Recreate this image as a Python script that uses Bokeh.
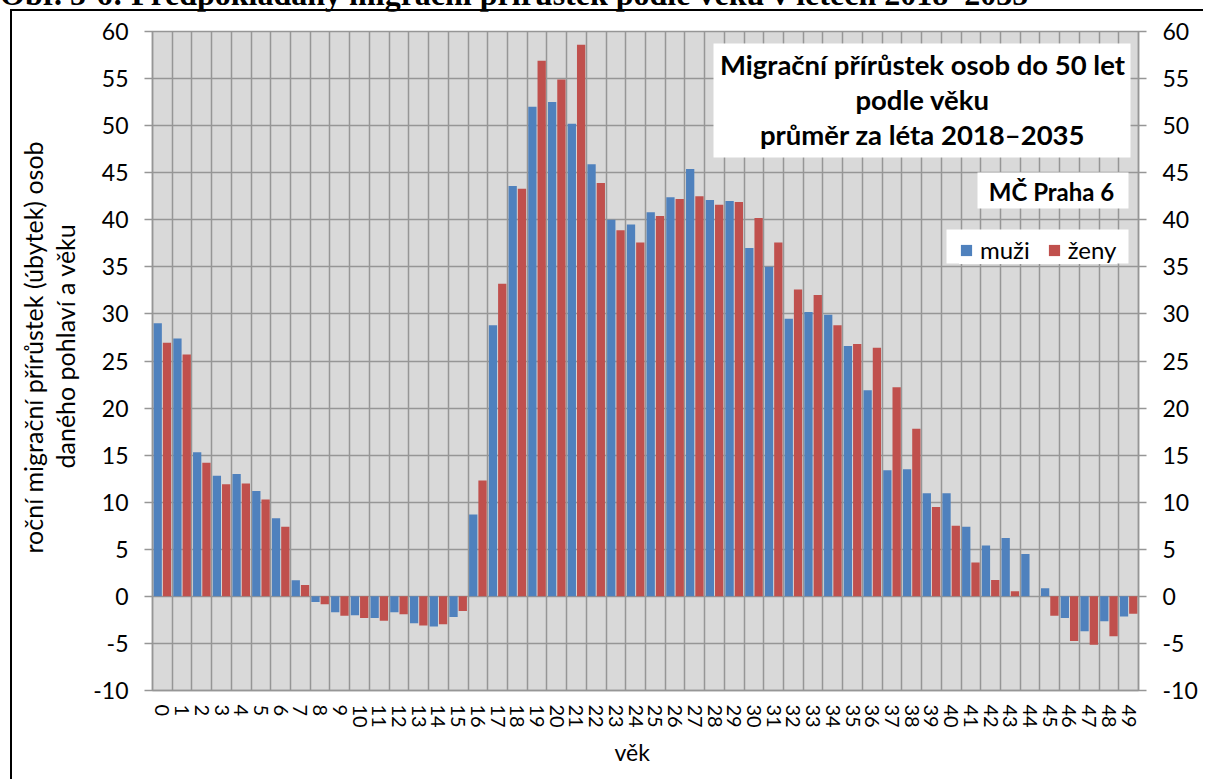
from bokeh.plotting import figure
from bokeh.layouts import column
from bokeh.models import (ColumnDataSource, Range1d, FixedTicker, LinearAxis,
                          BoxAnnotation, Label, Title, Div)
from bokeh.transform import dodge
from bokeh.embed import file_html
from bokeh.resources import INLINE

# ---------------- data ----------------
ages = list(range(50))
muzi = [29.0, 27.4, 15.3, 12.8, 13.0, 11.2, 8.3, 1.7, -0.6, -1.7,
        -2.0, -2.3, -1.7, -2.85, -3.2, -2.2, 8.7, 28.8, 43.6, 52.0,
        52.5, 50.2, 45.9, 40.0, 39.5, 40.8, 42.4, 45.4, 42.1, 42.0,
        37.0, 35.0, 29.5, 30.2, 29.9, 26.6, 21.9, 13.4, 13.5, 10.95,
        10.95, 7.4, 5.4, 6.2, 4.5, 0.85, -2.3, -3.7, -2.65, -2.15]
zeny = [26.95, 25.7, 14.2, 11.9, 12.0, 10.3, 7.4, 1.2, -0.85, -2.05,
        -2.3, -2.6, -1.9, -3.1, -2.95, -1.55, 12.3, 33.2, 43.3, 56.9,
        54.9, 58.6, 43.9, 38.9, 37.6, 40.4, 42.2, 42.5, 41.6, 41.9,
        40.2, 37.6, 32.6, 32.0, 28.8, 26.8, 26.4, 22.2, 17.8, 9.5,
        7.5, 3.6, 1.75, 0.55, 0.0, -2.05, -4.75, -5.15, -4.25, -1.85]
y_ticks = list(range(-10, 61, 5))

caption = "Obr. 5-6: Předpokládaný migrační přírůstek podle věku v letech 2018–2035"
title_lines = ["Migrační přírůstek osob do 50 let", "podle věku", "průměr za léta 2018–2035"]
region = "MČ Praha 6"
ytitle = ["roční migrační přírůstek (úbytek) osob", "daného pohlaví a věku"]
xtitle = "věk"
series_names = ["muži", "ženy"]

BLUE = "#4F81BD"
RED = "#C0504D"
GRID = "#969696"
FONT = "Lato"

src = ColumnDataSource(dict(age=ages, muzi=muzi, zeny=zeny))

p = figure(width=1193, height=770,
           x_range=Range1d(-0.5, 49.5), y_range=Range1d(-10, 60),
           min_border_left=140, min_border_right=67,
           min_border_top=20, min_border_bottom=91,
           output_backend="svg", toolbar_location=None,
           margin=(0, 0, 0, 12))
p.styles = {"box-shadow": "-2px -2px 0px 0px black"}

p.background_fill_color = "#D9D9D9"
p.border_fill_color = "white"
p.outline_line_color = GRID
p.outline_line_width = 1.5

# bars
p.vbar(x=dodge("age", -0.235), top="muzi", width=0.42, source=src,
       fill_color=BLUE, line_color=None, legend_label=series_names[0])
p.vbar(x=dodge("age", 0.235), top="zeny", width=0.42, source=src,
       fill_color=RED, line_color=None, legend_label=series_names[1])

# grid
p.xgrid.ticker = FixedTicker(ticks=[a - 0.5 for a in ages] + [ages[-1] + 0.5])
p.ygrid.ticker = FixedTicker(ticks=y_ticks)
for g in (p.xgrid, p.ygrid):
    g.grid_line_color = GRID
    g.grid_line_width = 1.5

# x axis
xa = p.xaxis[0]
xa.ticker = FixedTicker(ticks=ages)
xa.major_label_overrides = {a: str(a) for a in ages}
xa.major_label_orientation = "vertical"
xa.major_tick_out = 0
xa.major_tick_in = 0
xa.minor_tick_out = 0
xa.minor_tick_in = 0
xa.axis_line_color = GRID
xa.axis_line_width = 1.5
xa.major_label_standoff = 14
xa.major_label_text_font = FONT
xa.major_label_text_font_size = "20px"
xa.major_label_text_color = "black"

# y axes (left + right)
ra = LinearAxis()
p.add_layout(ra, "right")
for ax in (p.yaxis[0], ra):
    ax.ticker = FixedTicker(ticks=y_ticks)
    ax.major_label_overrides = {v: str(v) for v in y_ticks}
    ax.major_tick_out = 8
    ax.major_tick_in = 0
    ax.minor_tick_out = 0
    ax.minor_tick_in = 0
    ax.axis_line_color = GRID
    ax.axis_line_width = 1.5
    ax.major_tick_line_color = GRID
    ax.major_tick_line_width = 1.5
    ax.major_label_standoff = 16
    ax.major_label_text_font = FONT
    ax.major_label_text_font_size = "23px"
    ax.major_label_text_color = "black"

# axis titles (as side-panel titles)
p.add_layout(Title(text=ytitle[1], align="left", offset=222, text_font=FONT,
                   text_font_style="normal", text_font_size="25px",
                   text_color="black", standoff=22), "left")
p.add_layout(Title(text=ytitle[0], align="left", offset=137, text_font=FONT,
                   text_font_style="normal", text_font_size="25px",
                   text_color="black", standoff=-22), "left")
p.add_layout(Title(text=xtitle, align="left", offset=462, text_font=FONT,
                   text_font_style="normal", text_font_size="23px",
                   text_color="black", standoff=10), "below")

# white boxes behind title, region label and legend (canvas px)
for l, r, t, b in [(701, 1118, 32, 146), (965, 1116, 161, 197), (934, 1116, 218, 252)]:
    p.add_layout(BoxAnnotation(left=l, right=r, top=t, bottom=b,
                               left_units="canvas", right_units="canvas",
                               top_units="canvas", bottom_units="canvas",
                               fill_color="white", fill_alpha=1, line_color=None))

for i, line in enumerate(title_lines):
    p.add_layout(Label(x=910, y=53 + 35 * i, x_units="canvas", y_units="canvas",
                       text=line, text_align="center", text_baseline="alphabetic",
                       text_font=FONT, text_font_style="bold",
                       text_font_size="27.5px", text_color="black"))

p.add_layout(Label(x=1039, y=180, x_units="canvas", y_units="canvas",
                   text=region, text_align="center", text_baseline="alphabetic",
                   text_font=FONT, text_font_style="bold",
                   text_font_size="24px", text_color="black"))

# legend
lg = p.legend[0]
lg.location = (807, 426)
lg.orientation = "horizontal"
lg.glyph_width = 14
lg.glyph_height = 14
lg.label_text_font = FONT
lg.label_text_font_size = "24px"
lg.label_text_color = "black"
lg.label_standoff = 7
lg.spacing = 17
lg.padding = 3
lg.margin = 0
lg.border_line_color = None
lg.background_fill_color = "white"
lg.background_fill_alpha = 1.0

# caption line, cut at the top edge of the page
cap = Div(text=caption, width=1190, height=34, margin=(-23, 0, 0, 0),
          styles={"font-family": "Liberation Serif", "font-weight": "bold",
                  "font-size": "32px", "line-height": "34px",
                  "white-space": "nowrap", "color": "black"})

root = column(cap, p, spacing=0)
open("out.html", "w").write(file_html(root, INLINE))
